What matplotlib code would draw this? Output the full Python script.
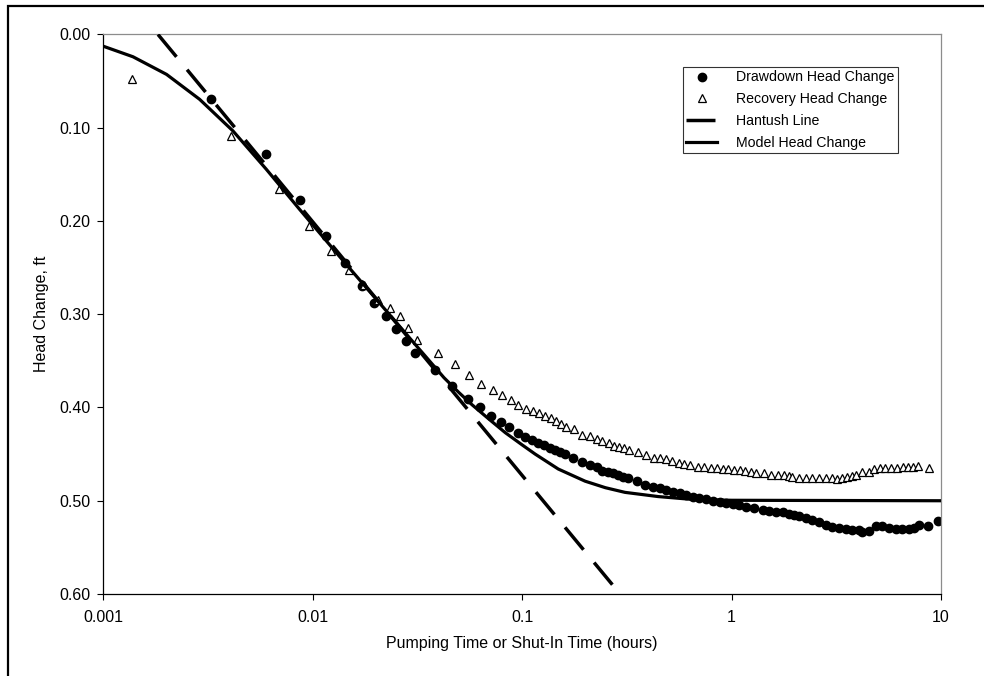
import numpy as np
import matplotlib.pyplot as plt
from matplotlib import patches

plt.rcParams['font.family'] = ['Liberation Sans', 'DejaVu Sans']

# drawdown (pumping) head change, ft
dd_t = [0.00329, 0.00603, 0.00875, 0.01159, 0.01425, 0.01714, 0.01968, 0.02233,
        0.02512, 0.0278, 0.0307, 0.0386, 0.0463, 0.0552, 0.0630, 0.0711, 0.0796,
        0.0871, 0.0955, 0.1035, 0.1114, 0.1197, 0.128, 0.1362, 0.1439, 0.152,
        0.1604, 0.1758, 0.1923, 0.211, 0.227, 0.242, 0.2576, 0.2723, 0.2877,
        0.304, 0.3206, 0.354, 0.388, 0.4217, 0.4539, 0.4887, 0.5248, 0.565,
        0.608, 0.6546, 0.703, 0.757, 0.815, 0.877, 0.942, 1.014, 1.091, 1.173,
        1.286, 1.407, 1.514, 1.629, 1.754, 1.884, 1.991, 2.104, 2.26, 2.432,
        2.618, 2.818, 3.03, 3.26, 3.51, 3.77, 4.06, 4.21, 4.53, 4.87, 5.24,
        5.64, 6.07, 6.52, 7.02, 7.41, 7.83, 8.67, 9.68]
dd_s = [0.0688, 0.1283, 0.1775, 0.2157, 0.2452, 0.2698, 0.2877, 0.3024,
        0.3163, 0.3287, 0.3415, 0.3594, 0.3772, 0.3904, 0.400, 0.4089, 0.416,
        0.4211, 0.4278, 0.4313, 0.435, 0.4378, 0.4403, 0.4431, 0.4457, 0.4481,
        0.4503, 0.4545, 0.4588, 0.4617, 0.4642, 0.4677, 0.4688, 0.4706, 0.4724,
        0.4741, 0.476, 0.4788, 0.4831, 0.4848, 0.4866, 0.4884, 0.4902, 0.492,
        0.4938, 0.4955, 0.4966, 0.498, 0.4998, 0.5009, 0.502, 0.5037, 0.5045,
        0.5062, 0.508, 0.5098, 0.5109, 0.5116, 0.5126, 0.5144, 0.5152, 0.5163,
        0.518, 0.5205, 0.5233, 0.5259, 0.528, 0.5294, 0.5305, 0.5312, 0.5319,
        0.533, 0.5323, 0.527, 0.5276, 0.5294, 0.5305, 0.5305, 0.5305, 0.5287,
        0.5259, 0.5276, 0.5222]

# recovery head change, ft
rec_t = [0.00138, 0.0041, 0.00689, 0.00962, 0.01225, 0.0149, 0.01754, 0.0206,
         0.02333, 0.02606, 0.02864, 0.03141, 0.0398, 0.0478, 0.0561, 0.064,
         0.0724, 0.0802, 0.0886, 0.0962, 0.1042, 0.1125, 0.1208, 0.1288, 0.1377,
         0.1456, 0.1535, 0.1622, 0.1778, 0.1941, 0.211, 0.227, 0.242, 0.2588,
         0.2742, 0.2917, 0.3076, 0.325, 0.357, 0.3926, 0.4256, 0.457, 0.4887,
         0.5212, 0.56, 0.593, 0.631, 0.690, 0.743, 0.800, 0.853, 0.908, 0.966,
         1.032, 1.098, 1.165, 1.239, 1.309, 1.436, 1.542, 1.66, 1.786, 1.884,
         1.954, 2.104, 2.26, 2.432, 2.618, 2.818, 3.03, 3.2, 3.38, 3.57, 3.77,
         3.91, 4.21, 4.53, 4.79, 5.11, 5.43, 5.78, 6.18, 6.59, 6.97, 7.36, 7.74,
         8.73]
rec_s = [0.0481, 0.1091, 0.1658, 0.2053, 0.2318, 0.2524, 0.2684, 0.2842,
         0.2934, 0.3024, 0.3148, 0.3273, 0.3412, 0.3529, 0.3647, 0.3743,
         0.3815, 0.3868, 0.3922, 0.3968, 0.4011, 0.404, 0.4064, 0.4093, 0.4118,
         0.4142, 0.4178, 0.4209, 0.4235, 0.4294, 0.4303, 0.4337, 0.4358, 0.4382,
         0.4412, 0.4426, 0.4439, 0.4457, 0.4481, 0.451, 0.4538, 0.4545, 0.4556,
         0.4574, 0.4591, 0.4606, 0.4617, 0.4634, 0.4642, 0.4652, 0.4652, 0.466,
         0.466, 0.4671, 0.4671, 0.4681, 0.469, 0.4706, 0.4706, 0.4724, 0.4724,
         0.4724, 0.473, 0.4741, 0.476, 0.4752, 0.4752, 0.4752, 0.4752, 0.476,
         0.4767, 0.476, 0.4749, 0.4735, 0.4724, 0.4695, 0.4688, 0.466, 0.4645,
         0.4645, 0.4645, 0.4645, 0.4642, 0.4634, 0.4634, 0.4628, 0.4652]

# Hantush straight line
hant_t = [0.00183, 0.27]
hant_s = [0.0, 0.59]

# model head change
mod_t = [0.001, 0.00139, 0.00201, 0.00289, 0.00417, 0.00601, 0.00865, 0.01442,
         0.03, 0.0424, 0.05, 0.0577, 0.07, 0.0832, 0.1, 0.1156, 0.149, 0.2,
         0.25, 0.31, 0.446, 0.643, 1.0, 10.0]
mod_s = [0.0125, 0.0239, 0.0428, 0.0695, 0.1034, 0.1444, 0.1872, 0.246,
         0.329, 0.368, 0.384, 0.397, 0.413, 0.427, 0.440, 0.450, 0.466, 0.479,
         0.486, 0.491, 0.4955, 0.4985, 0.4995, 0.50]

xticks = [0.001, 0.01, 0.1, 1, 10]
xticklabels = ['0.001', '0.01', '0.1', '1', '10']
yticks = [0.0, 0.1, 0.2, 0.3, 0.4, 0.5, 0.6]

fig = plt.figure(figsize=(9.84, 6.76), dpi=100)
ax = fig.add_axes([0.1047, 0.1213, 0.8516, 0.8277])

ax.plot(dd_t, dd_s, 'o', color='black', ms=6, zorder=2,
        label='Drawdown Head Change')
ax.plot(rec_t, rec_s, '^', mfc='white', mec='black', mew=0.9, ms=5.5,
        zorder=2, label='Recovery Head Change')
hl, = ax.plot(hant_t, hant_s, color='black', lw=2.5, zorder=3,
              label='Hantush Line', solid_capstyle='butt')
hl.set_dashes([8.35, 4.8])
ax.plot(mod_t, mod_s, color='black', lw=2.3, zorder=4,
        label='Model Head Change')

ax.set_xscale('log')
ax.set_xlim(0.001, 10)
ax.set_ylim(0.6, 0.0)
ax.set_xticks(xticks)
ax.set_xticklabels(xticklabels)
ax.xaxis.set_minor_locator(plt.NullLocator())
ax.set_yticks(yticks)
ax.set_yticklabels(['%.2f' % v for v in yticks])
ax.tick_params(direction='out', length=4.3, width=0.8, labelsize=11.5,
               pad=4.5, colors='black')
ax.tick_params(axis='x', pad=7)

for s in ['top', 'right']:
    ax.spines[s].set_color('#8c8c8c')
for s in ['left', 'bottom']:
    ax.spines[s].set_color('black')
for s in ax.spines.values():
    s.set_linewidth(0.9)

ax.set_xlabel('Pumping Time or Shut-In Time (hours)', fontsize=11.5)
ax.set_ylabel('Head Change, ft', fontsize=11.5)
ax.xaxis.set_label_coords(0.5, -0.075)
ax.yaxis.set_label_coords(-0.065, 0.5)

leg = ax.legend(loc='upper left', bbox_to_anchor=(0.692, 0.942),
                borderaxespad=0, fontsize=10.15, frameon=True, fancybox=False,
                handlelength=2.2, handletextpad=1.3, labelspacing=0.55,
                borderpad=0.25)
leg.get_frame().set_edgecolor('black')
leg.get_frame().set_linewidth(0.8)

# outer border of the chart (clipped on right and bottom)
fig.patches.append(patches.Rectangle((7.5 / 984, -0.05), 1.0, 1.05 - 6.5 / 676,
                                     transform=fig.transFigure, fill=False,
                                     lw=1.6, edgecolor='black'))

fig.savefig('out.png', dpi=100)
